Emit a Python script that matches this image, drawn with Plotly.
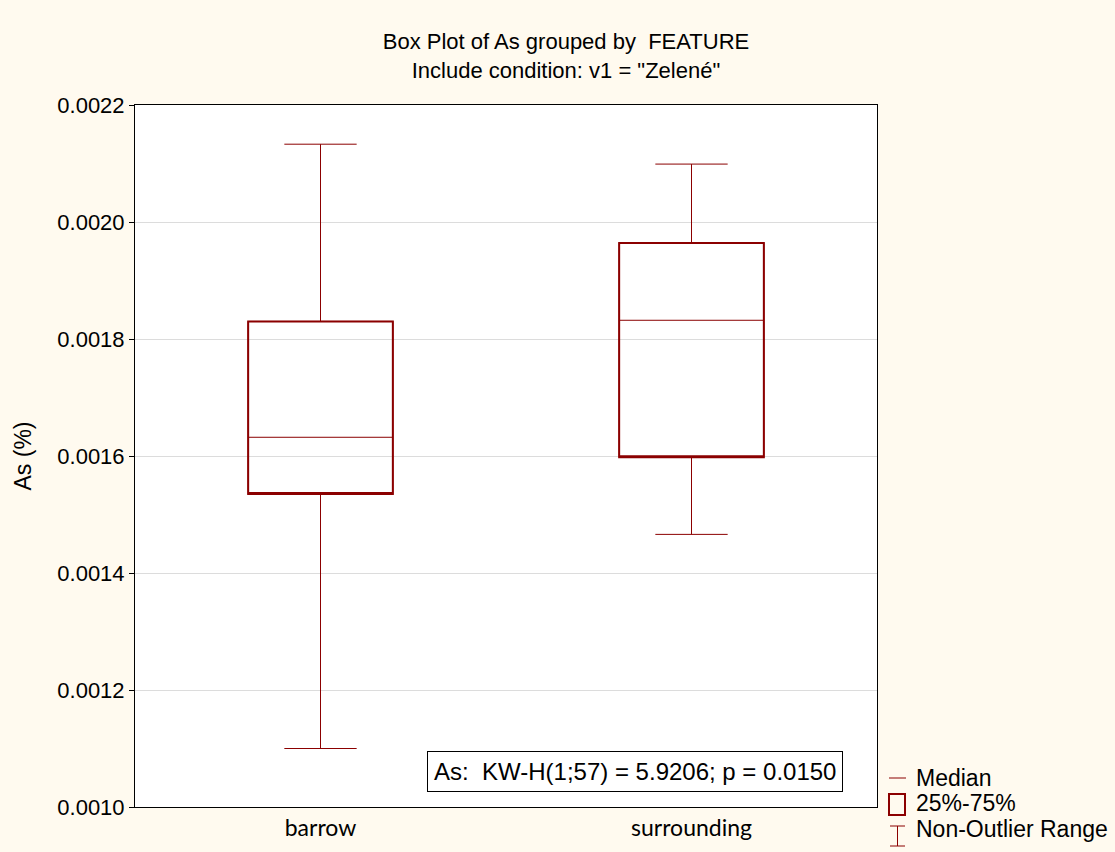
import plotly.graph_objects as go

categories = ["barrow", "surrounding"]
q1 = [0.001535, 0.001598]
median = [0.001632, 0.001832]
q3 = [0.001830, 0.001964]
lower = [0.001100, 0.001466]
upper = [0.002133, 0.002099]
y_ticks = [0.0010, 0.0012, 0.0014, 0.0016, 0.0018, 0.0020, 0.0022]
stat_text = "As:  KW-H(1;57) = 5.9206; p = 0.0150"
legend_labels = ["Median", "25%-75%", "Non-Outlier Range"]

RED = "#8B0000"
BG = "#FFFAEF"
W, H = 1115, 852
L, R, T, B = 135, 877, 105, 807
FONT = "Liberation Sans, Arial"

fig = go.Figure()
# full box with thin lines (whiskers, median)
fig.add_trace(go.Box(
    x=categories, q1=q1, median=median, q3=q3,
    lowerfence=lower, upperfence=upper,
    line=dict(color=RED, width=1), fillcolor="rgba(0,0,0,0)",
    width=0.39, whiskerwidth=0.5, showlegend=False, hoverinfo="skip",
))
# thicker box outline overlay
fig.add_trace(go.Box(
    x=categories, q1=q1, median=q1, q3=q3,
    lowerfence=q1, upperfence=q3,
    line=dict(color=RED, width=2), fillcolor="rgba(0,0,0,0)",
    width=0.39, whiskerwidth=0, showlegend=False, hoverinfo="skip",
))

def px_x(p):
    return (p - L) / (R - L)

def px_y(p):
    return (B - p) / (B - T)

shapes = []
# legend icons
shapes.append(dict(type="line", xref="paper", yref="paper",
                   x0=px_x(889), x1=px_x(906), y0=px_y(778), y1=px_y(778),
                   line=dict(color=RED, width=1)))
shapes.append(dict(type="rect", xref="paper", yref="paper",
                   x0=px_x(889), x1=px_x(905), y0=px_y(794), y1=px_y(815),
                   line=dict(color=RED, width=2), fillcolor="rgba(0,0,0,0)"))
shapes.append(dict(type="line", xref="paper", yref="paper",
                   x0=px_x(897.5), x1=px_x(897.5), y0=px_y(826), y1=px_y(846),
                   line=dict(color=RED, width=1)))
shapes.append(dict(type="line", xref="paper", yref="paper",
                   x0=px_x(890), x1=px_x(905), y0=px_y(826), y1=px_y(826),
                   line=dict(color=RED, width=1)))
shapes.append(dict(type="line", xref="paper", yref="paper",
                   x0=px_x(890), x1=px_x(905), y0=px_y(846), y1=px_y(846),
                   line=dict(color=RED, width=1)))

annotations = [
    dict(text=stat_text, xref="paper", yref="paper",
         x=px_x(635), y=px_y(771), xanchor="center", yanchor="middle",
         showarrow=False, bordercolor="black", borderwidth=1, borderpad=6,
         bgcolor="white",
         font=dict(family=FONT, size=24, color="black")),
]
for lab, yy in zip(legend_labels, [778, 803, 829]):
    annotations.append(dict(text=lab, xref="paper", yref="paper",
                            x=px_x(914), y=px_y(yy), xanchor="left", yanchor="middle",
                            showarrow=False,
                            font=dict(family=FONT, size=23, color="black")))

fig.update_layout(
    width=W, height=H,
    margin=dict(l=L, r=W - R, t=T, b=H - B, pad=0),
    paper_bgcolor=BG, plot_bgcolor="white",
    boxmode="overlay",
    title=dict(
        text="Box Plot of As grouped by  FEATURE<br>Include condition: v1 = \"Zelené\"",
        xref="container", yref="container",
        x=566 / W, xanchor="center", y=1 - 49 / H, yanchor="top",
        font=dict(family=FONT, size=22, color="black"),
    ),
    xaxis=dict(
        range=[-0.5, 1.5], showgrid=False, zeroline=False,
        showline=True, linecolor="black", linewidth=1, mirror=True,
        ticks="", tickfont=dict(family="Lato, Open Sans", size=23, color="black"),
    ),
    yaxis=dict(
        range=[0.0010, 0.0022], tickvals=y_ticks, tickformat=".4f",
        showgrid=True, gridcolor="#DCDCDC", gridwidth=1, zeroline=False,
        showline=True, linecolor="black", linewidth=1, mirror=True,
        ticks="outside", ticklen=5, tickcolor="black",
        tickfont=dict(family=FONT, size=22, color="black"),
        title=dict(text="As (%)", standoff=19,
                   font=dict(family=FONT, size=23, color="black")),
    ),
    shapes=shapes,
    annotations=annotations,
)

fig.write_html("out.html")
